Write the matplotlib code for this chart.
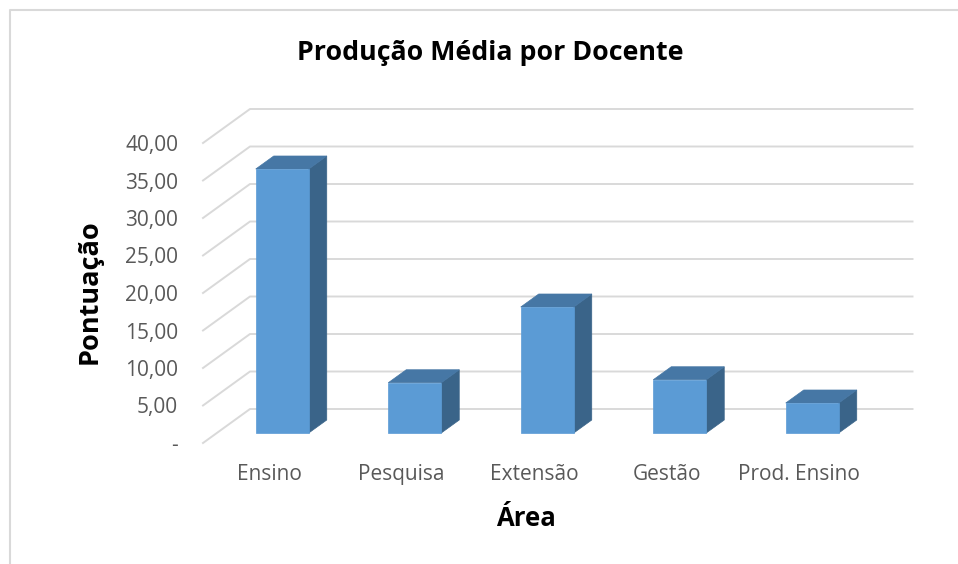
import matplotlib
matplotlib.use('Agg')
import matplotlib.pyplot as plt
from matplotlib.patches import Polygon
from matplotlib.lines import Line2D

# data
categories = ['Ensino', 'Pesquisa', 'Extensão', 'Gestão', 'Prod. Ensino']
values = [35.2, 6.7, 16.8, 7.1, 4.0]
y_ticks = [0, 5, 10, 15, 20, 25, 30, 35, 40]

plt.rcParams['font.family'] = ['Open Sans', 'DejaVu Sans']

W, H, DPI = 958, 564, 100
fig = plt.figure(figsize=(W / DPI, H / DPI), dpi=DPI)
fig.patch.set_facecolor('white')

# front plane of the fake 3D plot area
ax = fig.add_axes([203 / W, 121 / H, 662.5 / W, 300 / H])
ax.set_xlim(-0.5, len(categories) - 0.5)
ax.set_ylim(0, 40)
ax.patch.set_visible(False)
for s in ax.spines.values():
    s.set_visible(False)
ax.tick_params(length=0)

ax.set_yticks(y_ticks)
ax.set_yticklabels(['-' if v == 0 else f'{v:.2f}'.replace('.', ',') for v in y_ticks],
                   color='#595959', fontsize=15)
ax.tick_params(axis='y', pad=18)
ax.set_xticks(range(len(categories)))
ax.set_xticklabels(categories, color='#595959', fontsize=15)
ax.tick_params(axis='x', pad=15)

fig.canvas.draw()
tr = ax.transData

# depth offsets in pixels (x right, y up)
DEPTH = (47, 34)
BAR_FRONT = (13, 10)
BAR_BACK = (31, 23)


def pt(x, y, off=(0, 0)):
    px, py = tr.transform((x, y))
    return (px + off[0], py + off[1])


grid_col = '#D9D9D9'
x0, x1 = -0.5, len(categories) - 0.5
for v in y_ticks:
    a = pt(x0, v)
    b = pt(x0, v, DEPTH)
    c = pt(x1, v, DEPTH)
    fig.add_artist(Line2D([a[0], b[0], c[0]], [a[1], b[1], c[1]],
                          transform=None, color=grid_col, lw=1.4, zorder=1))

front_col = '#5B9BD5'
top_col = '#4677A5'
side_col = '#3A6489'
hw = 0.2
for i, v in enumerate(values):
    fl, fr = i - hw, i + hw
    side = [pt(fr, 0, BAR_FRONT), pt(fr, 0, BAR_BACK), pt(fr, v, BAR_BACK), pt(fr, v, BAR_FRONT)]
    top = [pt(fl, v, BAR_FRONT), pt(fl, v, BAR_BACK), pt(fr, v, BAR_BACK), pt(fr, v, BAR_FRONT)]
    front = [pt(fl, 0, BAR_FRONT), pt(fr, 0, BAR_FRONT), pt(fr, v, BAR_FRONT), pt(fl, v, BAR_FRONT)]
    for poly, col in ((side, side_col), (top, top_col), (front, front_col)):
        fig.add_artist(Polygon(poly, closed=True, transform=None, facecolor=col,
                               edgecolor=col, lw=0.5, zorder=3))

fig.text(490 / W, 1 - 53 / H, 'Produção Média por Docente', ha='center', va='center',
         fontsize=19.3, fontweight='bold', color='black')
fig.text(90 / W, 1 - 292 / H, 'Pontuação', ha='center', va='center', rotation=90,
         fontsize=19.5, fontweight='bold', color='black')
fig.text(526 / W, 1 - 518 / H, 'Área', ha='center', va='center',
         fontsize=18.5, fontweight='bold', color='black')

# chart border (only top and left visible in the crop)
fig.add_artist(Line2D([10 / W, 10 / W, 1], [0, 1 - 10 / H, 1 - 10 / H],
                      transform=fig.transFigure, color='#D9D9D9', lw=1.5))

fig.savefig('out.png', dpi=DPI, facecolor='white')
